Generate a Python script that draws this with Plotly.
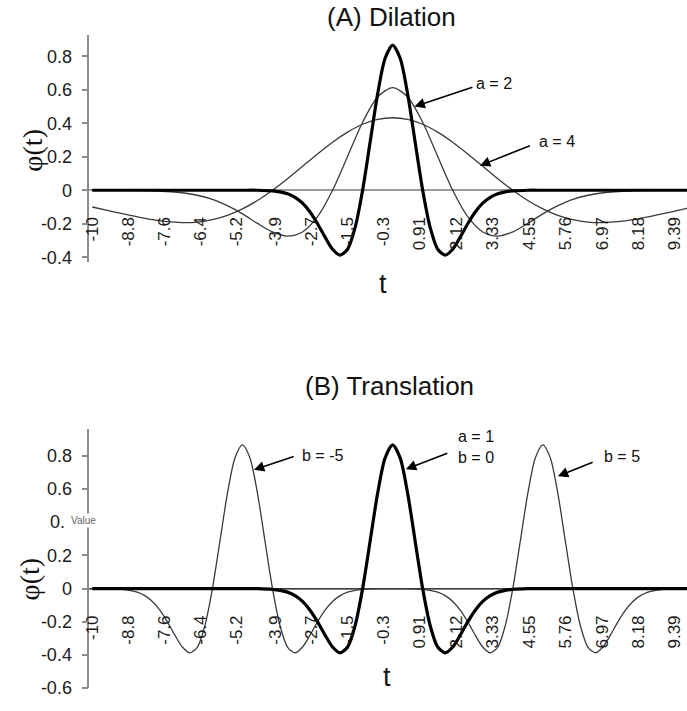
import plotly.graph_objects as go

# ---- data -----------------------------------------------------------------
# Mexican-hat wavelet, a = 1, b = 0
t_base = [-10, -8, -6, -5, -4.5, -4, -3.75, -3.5, -3.25, -3, -2.75, -2.5, -2.25,
          -2, -1.75, -1.5, -1.25, -1, -0.75, -0.5, -0.25, 0, 0.25, 0.5, 0.75, 1,
          1.25, 1.5, 1.75, 2, 2.25, 2.5, 2.75, 3, 3.25, 3.5, 3.75, 4, 4.5, 5, 6,
          8, 10]
phi_base = [0, 0, 0, 0, 0, -0.004, -0.010, -0.021, -0.042, -0.077, -0.130,
            -0.200, -0.280, -0.352, -0.387, -0.352, -0.223, 0, 0.286, 0.574,
            0.788, 0.867, 0.788, 0.574, 0.286, 0, -0.223, -0.352, -0.387,
            -0.352, -0.280, -0.200, -0.130, -0.077, -0.042, -0.021, -0.010,
            -0.004, 0, 0, 0, 0, 0]

# dilation a = 2
t_a2 = [-10, -9, -8, -7, -6, -5.5, -5, -4.5, -4, -3.5, -3, -2.5, -2, -1.5, -1,
        -0.5, 0, 0.5, 1, 1.5, 2, 2.5, 3, 3.5, 4, 4.5, 5, 5.5, 6, 7, 8, 9, 10]
phi_a2 = [0, -0.001, -0.003, -0.015, -0.054, -0.092, -0.141, -0.198, -0.249,
          -0.274, -0.249, -0.158, 0, 0.202, 0.406, 0.557, 0.613, 0.557, 0.406,
          0.202, 0, -0.158, -0.249, -0.274, -0.249, -0.198, -0.141, -0.092,
          -0.054, -0.015, -0.003, -0.001, 0]

# dilation a = 4
t_a4 = [-10, -9.5, -9, -8.5, -8, -7.5, -7, -6.5, -6, -5.5, -5, -4.5, -4, -3.5,
        -3, -2.5, -2, -1.5, -1, -0.5, 0, 0.5, 1, 1.5, 2, 2.5, 3, 3.5, 4, 4.5, 5,
        5.5, 6, 6.5, 7, 7.5, 8, 8.5, 9, 9.5, 10]
phi_a4 = [-0.100, -0.120, -0.140, -0.159, -0.176, -0.188, -0.193, -0.190,
          -0.176, -0.150, -0.111, -0.061, 0, 0.069, 0.143, 0.217, 0.287, 0.347,
          0.394, 0.423, 0.433, 0.423, 0.394, 0.347, 0.287, 0.217, 0.143, 0.069,
          0, -0.061, -0.111, -0.150, -0.176, -0.190, -0.193, -0.188, -0.176,
          -0.159, -0.140, -0.120, -0.100]

# translations
b_shifts = [-5, 5]

# axis labels
t_tick_labels = ["-10", "-8.8", "-7.6", "-6.4", "-5.2", "-3.9", "-2.7", "-1.5",
                 "-0.3", "0.91", "2.12", "3.33", "4.55", "5.76", "6.97", "8.18",
                 "9.39"]
y_ticks_a = [-0.4, -0.2, 0, 0.2, 0.4, 0.6, 0.8]
y_text_a = ["-0.4", "-0.2", "0", "0.2", "0.4", "0.6", "0.8"]
y_ticks_b = [-0.6, -0.4, -0.2, 0, 0.2, 0.4, 0.6, 0.8]
y_text_b = ["-0.6", "-0.4", "-0.2", "0", "0.2", "", "0.6", "0.8"]
y_partial_b = "0."   # 0.4 label, half hidden behind the "Value" tag

# ---- layout geometry ------------------------------------------------------
W, H = 687, 711
SANS = "Liberation Sans, Arial, sans-serif"
SERIF = "Liberation Serif, Times New Roman, serif"
X_RANGE = [-10.1, 9.8]
RANGE_A = [-0.43, 0.93]
RANGE_B = [-0.6, 0.96]
DOM_X = [84 / W, 1.0]
DOM_A = [(H - 266) / H, (H - 35) / H]
DOM_B = [(H - 698) / H, (H - 435.5) / H]


def zero_pos(dom, rng):
    return dom[0] + (0 - rng[0]) / (rng[1] - rng[0]) * (dom[1] - dom[0])


THIN = dict(color="#3a3a3a", width=1.3, shape="spline", smoothing=0.8)
THICK = dict(color="#000000", width=3.2, shape="spline", smoothing=0.8)

fig = go.Figure()

# (A) dilation
fig.add_trace(go.Scatter(x=t_a4, y=phi_a4, mode="lines", line=THIN,
                         xaxis="x", yaxis="y", name="a = 4"))
fig.add_trace(go.Scatter(x=t_a2, y=phi_a2, mode="lines", line=THIN,
                         xaxis="x", yaxis="y", name="a = 2"))
fig.add_trace(go.Scatter(x=t_base, y=phi_base, mode="lines", line=THICK,
                         xaxis="x", yaxis="y", name="a = 1"))

# (B) translation
for b in b_shifts:
    fig.add_trace(go.Scatter(x=[t + b for t in t_base], y=phi_base,
                             mode="lines", line=THIN, xaxis="x2", yaxis="y2",
                             name=f"b = {b}"))
fig.add_trace(go.Scatter(x=t_base, y=phi_base, mode="lines", line=THICK,
                         xaxis="x2", yaxis="y2", name="b = 0"))

t_tick_vals = [float(s) for s in t_tick_labels]

xcommon = dict(range=X_RANGE, domain=DOM_X, tickvals=t_tick_vals,
               ticktext=t_tick_labels, tickangle=-90, showline=False,
               showgrid=False, zeroline=False, ticks="outside", ticklen=17,
               tickcolor="rgba(0,0,0,0)", anchor="free",
               ticklabelstandoff=2,
               tickfont=dict(family=SANS, size=17, color="#1a1a1a"))
ycommon = dict(showline=True, linecolor="#8c8c8c", linewidth=1.5,
               ticks="outside", ticklen=6, tickwidth=1.5, tickcolor="#8c8c8c",
               showgrid=False, zeroline=True, zerolinecolor="#9a9a9a",
               zerolinewidth=1.5, ticklabelstandoff=6,
               tickfont=dict(family=SANS, size=18, color="#1a1a1a"))

fig.update_layout(
    width=W, height=H, margin=dict(l=0, r=0, t=0, b=0),
    paper_bgcolor="white", plot_bgcolor="white", showlegend=False,
    xaxis=dict(**xcommon, position=zero_pos(DOM_A, RANGE_A)),
    yaxis=dict(**ycommon, domain=DOM_A, range=RANGE_A, anchor="x",
               tickvals=y_ticks_a, ticktext=y_text_a),
    xaxis2=dict(**xcommon, position=zero_pos(DOM_B, RANGE_B)),
    yaxis2=dict(**ycommon, domain=DOM_B, range=RANGE_B, anchor="x2",
                tickvals=y_ticks_b, ticktext=y_text_b),
)


def pp(px, py):
    return px / W, 1 - py / H


annotations = []


def label(text, px, py, size, family=SANS, angle=0, xanchor="center", **kw):
    x, y = pp(px, py)
    annotations.append(dict(text=text, x=x, y=y, xref="paper", yref="paper",
                            showarrow=False, xanchor=xanchor, yanchor="middle",
                            textangle=angle,
                            font=dict(family=family, size=size, color="#111111"),
                            **kw))


label("(A) Dilation", 389, 17, 26)
label("(B) Translation", 387, 391, 26)
label("t", 380, 288, 27)
label("t", 384, 687, 27)
label("\u03c6(t)", 27, 152, 28, family=SERIF, angle=-90)
label("\u03c6(t)", 24, 587, 28, family=SERIF, angle=-90)

# truncated 0.4 tick label and the small "Value" tag beside it
annotations.append(dict(text=y_partial_b, x=0.0, y=0.4, xref="paper",
                        yref="y2", showarrow=False, xanchor="right",
                        yanchor="middle", xshift=61,
                        font=dict(family=SANS, size=18, color="#1a1a1a")))
annotations.append(dict(text="Value", x=78 / W, y=1 - 528 / H, xref="paper",
                        yref="paper", showarrow=False, bgcolor="white",
                        xanchor="center", yanchor="middle",
                        font=dict(family=SANS, size=10, color="#666666"),
                        borderpad=1))


def arrow(xr, yr, head, tail):
    annotations.append(dict(text="", x=head[0], y=head[1], ax=tail[0],
                            ay=tail[1], xref=xr, yref=yr, axref=xr, ayref=yr,
                            showarrow=True, arrowhead=2, arrowsize=1.3,
                            arrowwidth=1.6, arrowcolor="#000000", standoff=0))


def note(xr, yr, text, t, v):
    annotations.append(dict(text=text, x=t, y=v, xref=xr, yref=yr,
                            showarrow=False, xanchor="left", yanchor="middle",
                            align="left",
                            font=dict(family=SANS, size=16, color="#111111")))


# (A) annotations
arrow("x", "y", (0.726, 0.50), (2.706, 0.618))
note("x", "y", "a = 2", 2.70, 0.635)
arrow("x", "y", (2.904, 0.147), (4.62, 0.27))
note("x", "y", "a = 4", 4.80, 0.294)

# (B) annotations
arrow("x2", "y2", (-4.62, 0.716), (-3.244, 0.80))
note("x2", "y2", "b = -5", -3.10, 0.802)
arrow("x2", "y2", (0.44, 0.72), (1.871, 0.82))
note("x2", "y2", "a = 1<br>b = 0", 2.12, 0.853)
arrow("x2", "y2", (5.50, 0.677), (6.71, 0.766))
note("x2", "y2", "b = 5", 6.98, 0.796)

fig.update_layout(annotations=annotations)

fig.write_html("out.html")
